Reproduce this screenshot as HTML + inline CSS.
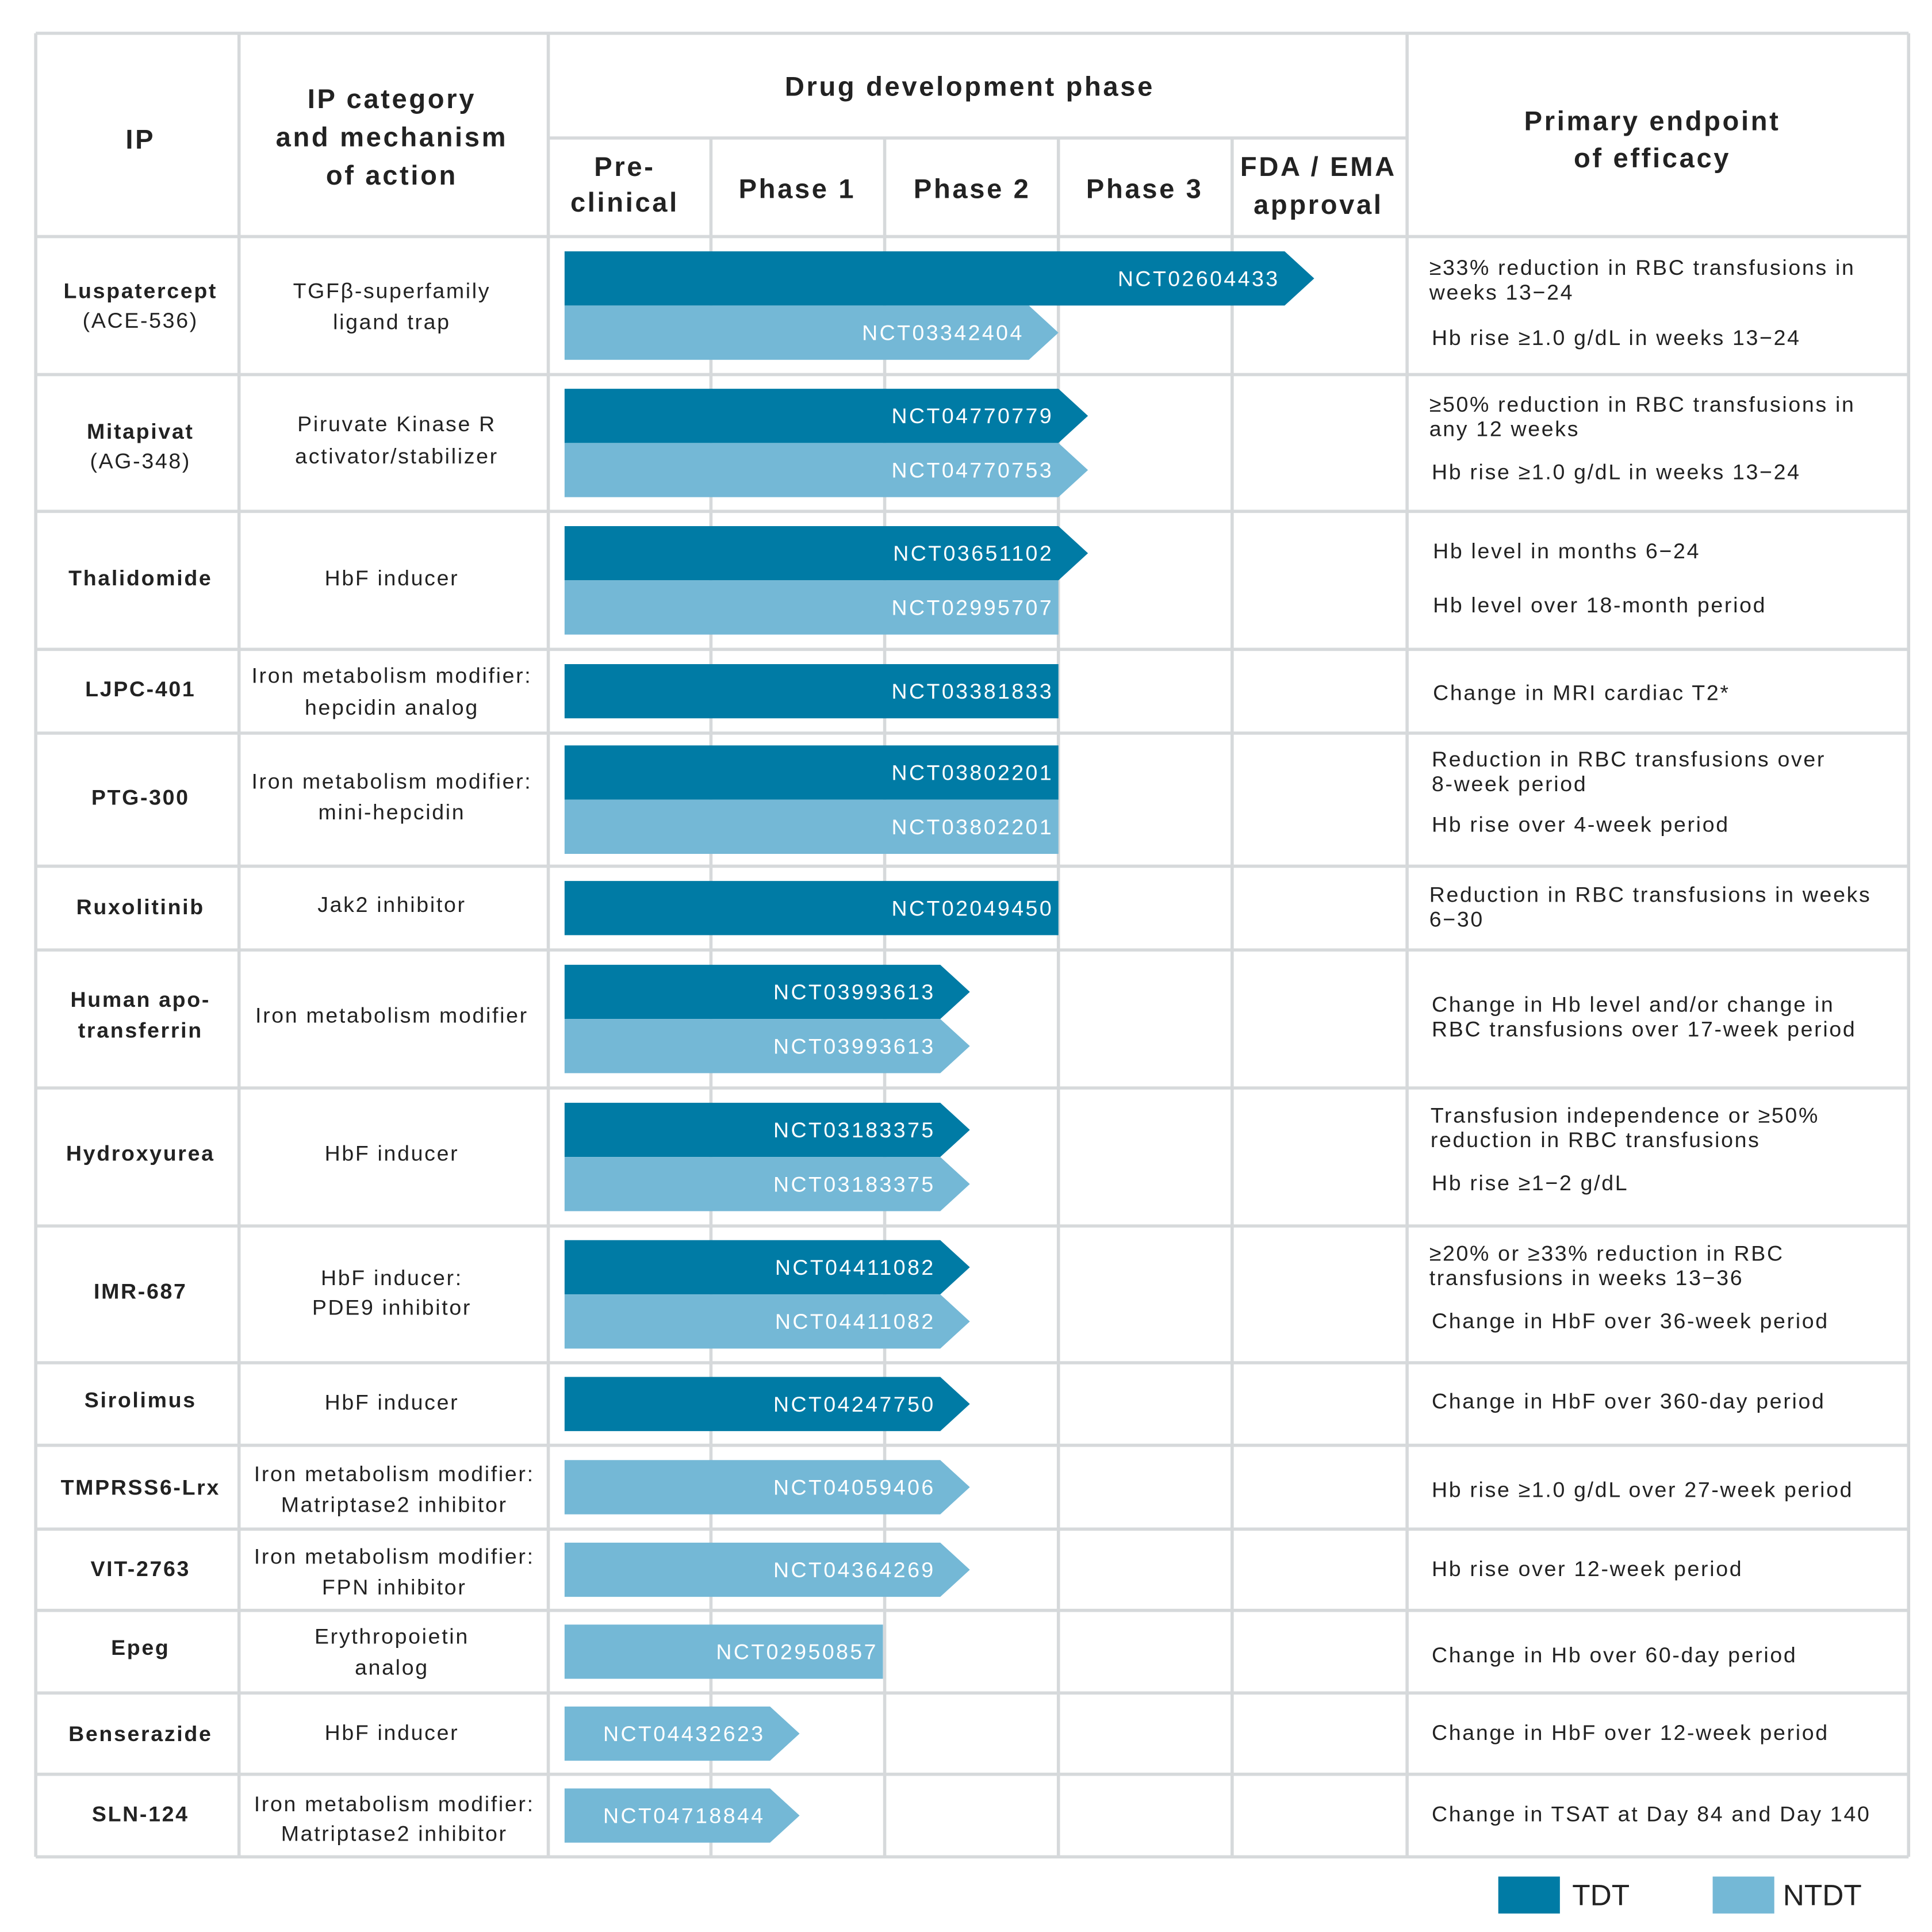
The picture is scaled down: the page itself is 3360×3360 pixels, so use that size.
<!DOCTYPE html>
<html><head><meta charset="utf-8">
<style>
html,body{margin:0;padding:0;background:#fff;}
svg{display:block;}
text{font-family:"Liberation Sans",Arial,sans-serif;fill:#222;}
.b{font-weight:bold;}
.h{font-weight:bold;font-size:22px;letter-spacing:1.7px;}
.t{font-size:17.5px;letter-spacing:1.25px;}
.bl{font-size:17.5px;fill:#fff;letter-spacing:1.6px;}
</style></head>
<body>
<svg id="chart" width="3360" height="3360" viewBox="0 0 1568 1568" xmlns="http://www.w3.org/2000/svg">
<g id="grid" stroke="#d6d9db" stroke-width="2.6" fill="none"></g>
<g id="bars"></g>
<g id="texts" dominant-baseline="central">
<text class="h" x="114" y="113" text-anchor="middle">IP</text>
<g class="h" text-anchor="middle">
<text x="318" y="80">IP category</text><text x="318" y="111">and mechanism</text><text x="318" y="142">of action</text></g>
<text class="h" x="787" y="70" text-anchor="middle">Drug development phase</text>
<g class="h" text-anchor="middle">
<text x="507" y="135">Pre-</text><text x="507" y="164">clinical</text>
<text x="647" y="153">Phase 1</text><text x="789" y="153">Phase 2</text><text x="929" y="153">Phase 3</text>
<text x="1070" y="135">FDA / EMA</text><text x="1070" y="166">approval</text></g>
<g class="h" text-anchor="middle">
<text x="1341" y="98">Primary endpoint</text><text x="1341" y="128">of efficacy</text></g>

<g class="t" text-anchor="middle">
<text class="b" x="114" y="236">Luspatercept</text><text x="114" y="260">(ACE-536)</text>
<text class="b" x="114" y="350">Mitapivat</text><text x="114" y="374">(AG-348)</text>
<text class="b" x="114" y="469">Thalidomide</text>
<text class="b" x="114" y="559">LJPC-401</text>
<text class="b" x="114" y="647">PTG-300</text>
<text class="b" x="114" y="736">Ruxolitinib</text>
<text class="b" x="114" y="811">Human apo-</text><text class="b" x="114" y="836">transferrin</text>
<text class="b" x="114" y="936">Hydroxyurea</text>
<text class="b" x="114" y="1048">IMR-687</text>
<text class="b" x="114" y="1136">Sirolimus</text>
<text class="b" x="114" y="1207">TMPRSS6-Lrx</text>
<text class="b" x="114" y="1273">VIT-2763</text>
<text class="b" x="114" y="1337">Epeg</text>
<text class="b" x="114" y="1407">Benserazide</text>
<text class="b" x="114" y="1472">SLN-124</text>
</g>
<g class="t" text-anchor="middle">
<text x="318" y="236">TGFβ-superfamily</text><text x="318" y="261">ligand trap</text>
<text x="322" y="344">Piruvate Kinase R</text><text x="322" y="370">activator/stabilizer</text>
<text x="318" y="469">HbF inducer</text>
<text x="318" y="548">Iron metabolism modifier:</text><text x="318" y="574">hepcidin analog</text>
<text x="318" y="634">Iron metabolism modifier:</text><text x="318" y="659">mini-hepcidin</text>
<text x="318" y="734">Jak2 inhibitor</text>
<text x="318" y="824">Iron metabolism modifier</text>
<text x="318" y="936">HbF inducer</text>
<text x="318" y="1037">HbF inducer:</text><text x="318" y="1061">PDE9 inhibitor</text>
<text x="318" y="1138">HbF inducer</text>
<text x="320" y="1196">Iron metabolism modifier:</text><text x="320" y="1221">Matriptase2 inhibitor</text>
<text x="320" y="1263">Iron metabolism modifier:</text><text x="320" y="1288">FPN inhibitor</text>
<text x="318" y="1328">Erythropoietin</text><text x="318" y="1353">analog</text>
<text x="318" y="1406">HbF inducer</text>
<text x="320" y="1464">Iron metabolism modifier:</text><text x="320" y="1488">Matriptase2 inhibitor</text>
</g>
<g class="t">
<text x="1160" y="217">≥33% reduction in RBC transfusions in</text><text x="1160" y="237">weeks 13−24</text><text x="1162" y="274">Hb rise ≥1.0 g/dL in weeks 13−24</text>
<text x="1160" y="328">≥50% reduction in RBC transfusions in</text><text x="1160" y="348">any 12 weeks</text><text x="1162" y="383">Hb rise ≥1.0 g/dL in weeks 13−24</text>
<text x="1163" y="447">Hb level in months 6−24</text><text x="1163" y="491">Hb level over 18-month period</text>
<text x="1163" y="562">Change in MRI cardiac T2*</text>
<text x="1162" y="616">Reduction in RBC transfusions over</text><text x="1162" y="636">8-week period</text><text x="1162" y="669">Hb rise over 4-week period</text>
<text x="1160" y="726">Reduction in RBC transfusions in weeks</text><text x="1160" y="746">6−30</text>
<text x="1162" y="815">Change in Hb level and/or change in</text><text x="1162" y="835">RBC transfusions over 17-week period</text>
<text x="1161" y="905">Transfusion independence or ≥50%</text><text x="1161" y="925">reduction in RBC transfusions</text><text x="1162" y="960">Hb rise ≥1−2 g/dL</text>
<text x="1160" y="1017">≥20% or ≥33% reduction in RBC</text><text x="1160" y="1037">transfusions in weeks 13−36</text><text x="1162" y="1072">Change in HbF over 36-week period</text>
<text x="1162" y="1137">Change in HbF over 360-day period</text>
<text x="1162" y="1209">Hb rise ≥1.0 g/dL over 27-week period</text>
<text x="1162" y="1273">Hb rise over 12-week period</text>
<text x="1162" y="1343">Change in Hb over 60-day period</text>
<text x="1162" y="1406">Change in HbF over 12-week period</text>
<text x="1162" y="1472">Change in TSAT at Day 84 and Day 140</text>
</g>
</g>
<g>
<rect x="1216" y="1523" width="50" height="30" fill="#007ba5"/>
<text x="1276" y="1538" dominant-baseline="central" font-size="24">TDT</text>
<rect x="1390" y="1523" width="50" height="30" fill="#74b8d6"/>
<text x="1447" y="1538" dominant-baseline="central" font-size="24">NTDT</text>
</g>
</svg>
<script>
// Phase data: end position in phase units (0=start of preclinical, 5=end of approval column)
const rowBounds = [192,304,415,527,595,703,771,883,995,1106,1173,1241,1307,1374,1440,1507];
const tdtEnd   = [4.30,3.0,3.0,3.0,3.0,3.0,2.32,2.32,2.32,2.32,null,null,null,null,null];
const tdtArrow = [1,1,1,0,0,0,1,1,1,1,0,0,0,0,0];
const tdtIds   = ["NCT02604433","NCT04770779","NCT03651102","NCT03381833","NCT03802201","NCT02049450","NCT03993613","NCT03183375","NCT04411082","NCT04247750","","","","",""];
const ntdtEnd   = [2.83,3.0,3.0,null,3.0,null,2.32,2.32,2.32,null,2.32,2.32,1.99,1.34,1.34];
const ntdtArrow = [1,1,0,0,0,0,1,1,1,0,1,1,0,1,1];
const ntdtIds   = ["NCT03342404","NCT04770753","NCT02995707","","NCT03802201","","NCT03993613","NCT03183375","NCT04411082","","NCT04059406","NCT04364269","NCT02950857","NCT04432623","NCT04718844"];
const barStart = 0.1;

const NS="http://www.w3.org/2000/svg";
const phaseEdges=[445,577,718,859,1000,1142];
function xPhase(p){const i=Math.min(Math.floor(p),4);return phaseEdges[i]+(p-i)*(phaseEdges[i+1]-phaseEdges[i]);}
const grid=document.getElementById('grid');
function line(x1,y1,x2,y2){const l=document.createElementNS(NS,'line');l.setAttribute('x1',x1);l.setAttribute('y1',y1);l.setAttribute('x2',x2);l.setAttribute('y2',y2);


grid.appendChild(l);}
const L=29,R=1549,T=27,B=1507;
line(L,T,R,T);line(L,B,R,B);line(L,T,L,B);line(R,T,R,B);
[194,445,1142].forEach(x=>line(x,T,x,B));
[577,718,859,1000].forEach(x=>line(x,112,x,B));
line(445,112,1142,112);
rowBounds.slice(0,-1).forEach(y=>line(L,y,R,y));
const bars=document.getElementById('bars');
function bar(y,h,end,arrow,id,col,name){
  const x0=xPhase(barStart),x1=xPhase(end),tip=arrow?24:0;
  const p=document.createElementNS(NS,'polygon');
  p.setAttribute('points',`${x0},${y} ${x1},${y} ${x1+tip},${y+h/2} ${x1},${y+h} ${x0},${y+h}`);
  p.setAttribute('fill',col);
  
  
  bars.appendChild(p);
  const t=document.createElementNS(NS,'text');
  t.setAttribute('x',x1-4);t.setAttribute('y',y+h/2);t.setAttribute('text-anchor','end');
  t.setAttribute('dominant-baseline','central');t.setAttribute('class','bl');
  t.textContent=id;
  
  
  bars.appendChild(t);
}
for(let i=0;i<15;i++){
  const top=rowBounds[i],bot=rowBounds[i+1],H=44;
  const hasT=tdtEnd[i]!==null,hasN=ntdtEnd[i]!==null;
  if(hasT&&hasN){
    const y0=(top+bot)/2-H;
    bar(y0,H,tdtEnd[i],tdtArrow[i],tdtIds[i],'#007ba5','tdt-bar');
    bar(y0+H,H,ntdtEnd[i],ntdtArrow[i],ntdtIds[i],'#74b8d6','ntdt-bar');
  }else if(hasT){
    bar((top+bot)/2-H/2,H,tdtEnd[i],tdtArrow[i],tdtIds[i],'#007ba5','tdt-bar');
  }else if(hasN){
    bar((top+bot)/2-H/2,H,ntdtEnd[i],ntdtArrow[i],ntdtIds[i],'#74b8d6','ntdt-bar');
  }
}
</script>
</body></html>
